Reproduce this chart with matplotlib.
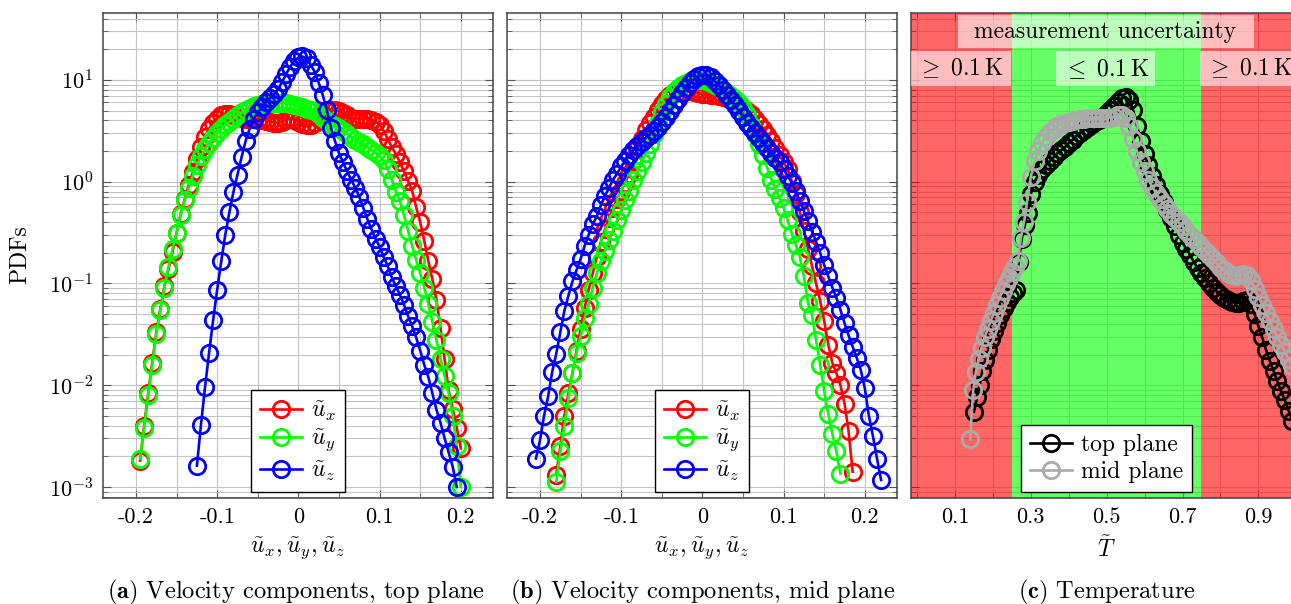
import numpy as np
import matplotlib
matplotlib.use('Agg')
import matplotlib.pyplot as plt
from matplotlib.patches import Rectangle
from matplotlib.ticker import FixedLocator, FixedFormatter, LogLocator, NullFormatter

plt.rcParams.update({
    'font.family': 'serif',
    'font.serif': ['cmr10'],
    'mathtext.fontset': 'cm',
    'axes.unicode_minus': False,
})

# ---------------- data (PDF values stored as log10 exponents) ----------------
# Panel (a): top plane
ux_top_x = [-0.195, -0.190, -0.185, -0.180, -0.175, -0.170, -0.165, -0.160, -0.155, -0.150,
            -0.145, -0.140, -0.135, -0.130, -0.125, -0.120, -0.115, -0.110, -0.105, -0.100,
            -0.095, -0.090, -0.085, -0.080, -0.075, -0.070, -0.065, -0.060, -0.055, -0.050,
            -0.045, -0.040, -0.035, -0.030, -0.025, -0.020, -0.015, -0.010, -0.005, 0.000,
            0.005, 0.010, 0.015, 0.020, 0.025, 0.030, 0.035, 0.040, 0.045, 0.050,
            0.055, 0.060, 0.065, 0.070, 0.075, 0.080, 0.085, 0.090, 0.095, 0.100,
            0.105, 0.110, 0.115, 0.120, 0.125, 0.130, 0.135, 0.140, 0.145, 0.150,
            0.155, 0.160, 0.165, 0.170, 0.175, 0.180, 0.185, 0.190, 0.195, 0.200]
ux_top_log = [-2.74, -2.40, -2.08, -1.78, -1.48, -1.25, -1.03, -0.86, -0.69, -0.50,
              -0.32, -0.17, -0.03, 0.09, 0.22, 0.34, 0.44, 0.52, 0.58, 0.62,
              0.65, 0.66, 0.66, 0.65, 0.64, 0.63, 0.62, 0.62, 0.62, 0.61,
              0.61, 0.60, 0.59, 0.58, 0.58, 0.59, 0.61, 0.62, 0.61, 0.59,
              0.57, 0.56, 0.56, 0.58, 0.62, 0.66, 0.69, 0.70, 0.70, 0.69,
              0.67, 0.65, 0.63, 0.62, 0.62, 0.62, 0.62, 0.61, 0.59, 0.56,
              0.50, 0.42, 0.34, 0.27, 0.19, 0.10, 0.01, -0.09, -0.25, -0.40,
              -0.58, -0.78, -0.96, -1.16, -1.44, -1.74, -2.05, -2.23, -2.42, -2.62]

uy_top_x = ux_top_x
uy_top_log = [-2.72, -2.42, -2.10, -1.80, -1.50, -1.26, -1.04, -0.84, -0.66, -0.50,
              -0.33, -0.18, -0.06, 0.06, 0.16, 0.25, 0.32, 0.38, 0.43, 0.48,
              0.52, 0.56, 0.59, 0.62, 0.65, 0.68, 0.70, 0.72, 0.74, 0.75,
              0.76, 0.77, 0.77, 0.77, 0.77, 0.77, 0.77, 0.76, 0.75, 0.74,
              0.73, 0.71, 0.70, 0.69, 0.66, 0.63, 0.60, 0.57, 0.55, 0.53,
              0.50, 0.47, 0.44, 0.41, 0.39, 0.37, 0.34, 0.31, 0.28, 0.25,
              0.21, 0.12, 0.02, -0.10, -0.19, -0.33, -0.48, -0.63, -0.77, -0.90,
              -1.04, -1.20, -1.38, -1.56, -1.74, -1.91, -2.08, -2.30, -2.60, -3.00]

uz_top_x = [-0.125, -0.120, -0.115, -0.110, -0.105, -0.100, -0.095, -0.090, -0.085, -0.080,
            -0.075, -0.070, -0.065, -0.060, -0.055, -0.050, -0.045, -0.040, -0.035, -0.030,
            -0.025, -0.020, -0.015, -0.010, -0.005, 0.000, 0.005, 0.010, 0.015, 0.020,
            0.025, 0.030, 0.035, 0.040, 0.045, 0.050, 0.055, 0.060, 0.065, 0.070,
            0.075, 0.080, 0.085, 0.090, 0.095, 0.100, 0.105, 0.110, 0.115, 0.120,
            0.125, 0.130, 0.135, 0.140, 0.145, 0.150, 0.155, 0.160, 0.165, 0.170,
            0.175, 0.180, 0.185, 0.190, 0.195]
uz_top_log = [-2.79, -2.39, -2.02, -1.68, -1.36, -1.06, -0.78, -0.52, -0.30, -0.10,
              0.07, 0.24, 0.40, 0.52, 0.62, 0.68, 0.73, 0.78, 0.82, 0.86,
              0.91, 0.98, 1.06, 1.13, 1.19, 1.22, 1.23, 1.21, 1.15, 1.08,
              0.97, 0.85, 0.70, 0.53, 0.40, 0.28, 0.19, 0.10, 0.02, -0.06,
              -0.15, -0.26, -0.37, -0.47, -0.56, -0.64, -0.74, -0.83, -0.94, -1.03,
              -1.11, -1.21, -1.32, -1.42, -1.53, -1.66, -1.80, -1.92, -2.08, -2.24,
              -2.37, -2.52, -2.66, -2.80, -3.00]

# Panel (b): mid plane
ux_mid_x = [-0.180, -0.175, -0.170, -0.165, -0.160, -0.155, -0.150, -0.145, -0.140, -0.135,
            -0.130, -0.125, -0.120, -0.115, -0.110, -0.105, -0.100, -0.095, -0.090, -0.085,
            -0.080, -0.075, -0.070, -0.065, -0.060, -0.055, -0.050, -0.045, -0.040, -0.035,
            -0.030, -0.025, -0.020, -0.015, -0.010, -0.005, 0.000, 0.005, 0.010, 0.015,
            0.020, 0.025, 0.030, 0.035, 0.040, 0.045, 0.050, 0.055, 0.060, 0.065,
            0.070, 0.075, 0.080, 0.085, 0.090, 0.095, 0.100, 0.105, 0.110, 0.115,
            0.120, 0.125, 0.130, 0.135, 0.140, 0.145, 0.150, 0.155, 0.160, 0.165,
            0.170, 0.175, 0.180, 0.185]
ux_mid_log = [-2.88, -2.60, -2.30, -2.08, -1.88, -1.66, -1.45, -1.24, -1.06, -0.90,
              -0.74, -0.59, -0.47, -0.36, -0.26, -0.17, -0.09, -0.01, 0.08, 0.20,
              0.32, 0.42, 0.51, 0.58, 0.64, 0.70, 0.76, 0.81, 0.85, 0.87,
              0.88, 0.89, 0.89, 0.89, 0.88, 0.87, 0.86, 0.86, 0.85, 0.85,
              0.84, 0.83, 0.82, 0.80, 0.78, 0.75, 0.72, 0.69, 0.66, 0.62,
              0.57, 0.52, 0.46, 0.40, 0.33, 0.26, 0.19, 0.12, 0.01, -0.12,
              -0.30, -0.48, -0.66, -0.83, -1.00, -1.17, -1.37, -1.60, -1.78, -1.88,
              -2.00, -2.18, -2.45, -2.85]

uy_mid_x = [-0.180, -0.175, -0.170, -0.165, -0.160, -0.155, -0.150, -0.145, -0.140, -0.135,
            -0.130, -0.125, -0.120, -0.115, -0.110, -0.105, -0.100, -0.095, -0.090, -0.085,
            -0.080, -0.075, -0.070, -0.065, -0.060, -0.055, -0.050, -0.045, -0.040, -0.035,
            -0.030, -0.025, -0.020, -0.015, -0.010, -0.005, 0.000, 0.005, 0.010, 0.015,
            0.020, 0.025, 0.030, 0.035, 0.040, 0.045, 0.050, 0.055, 0.060, 0.065,
            0.070, 0.075, 0.080, 0.085, 0.090, 0.095, 0.100, 0.105, 0.110, 0.115,
            0.120, 0.125, 0.130, 0.135, 0.140, 0.145, 0.150, 0.155, 0.160, 0.165,
            0.170]
uy_mid_log = [-2.95, -2.65, -2.40, -2.13, -1.88, -1.68, -1.52, -1.34, -1.20, -1.04,
              -0.90, -0.78, -0.68, -0.57, -0.48, -0.38, -0.28, -0.18, -0.09, 0.02,
              0.10, 0.19, 0.28, 0.37, 0.47, 0.58, 0.68, 0.76, 0.83, 0.88,
              0.92, 0.95, 0.97, 0.99, 1.00, 1.00, 1.00, 0.99, 0.97, 0.95,
              0.93, 0.90, 0.87, 0.84, 0.81, 0.77, 0.72, 0.65, 0.56, 0.47,
              0.37, 0.26, 0.13, 0.02, -0.07, -0.16, -0.26, -0.38, -0.51, -0.62,
              -0.74, -0.93, -1.19, -1.31, -1.56, -1.80, -2.06, -2.28, -2.48, -2.65,
              -2.87]

uz_mid_x = [-0.205, -0.200, -0.195, -0.190, -0.185, -0.180, -0.175, -0.170, -0.165, -0.160,
            -0.155, -0.150, -0.145, -0.140, -0.135, -0.130, -0.125, -0.120, -0.115, -0.110,
            -0.105, -0.100, -0.095, -0.090, -0.085, -0.080, -0.075, -0.070, -0.065, -0.060,
            -0.055, -0.050, -0.045, -0.040, -0.035, -0.030, -0.025, -0.020, -0.015, -0.010,
            -0.005, 0.000, 0.005, 0.010, 0.015, 0.020, 0.025, 0.030, 0.035, 0.040,
            0.045, 0.050, 0.055, 0.060, 0.065, 0.070, 0.075, 0.080, 0.085, 0.090,
            0.095, 0.100, 0.105, 0.110, 0.115, 0.120, 0.125, 0.130, 0.135, 0.140,
            0.145, 0.150, 0.155, 0.160, 0.165, 0.170, 0.175, 0.180, 0.185, 0.190,
            0.195, 0.200, 0.205, 0.210, 0.215, 0.220]
uz_mid_log = [-2.72, -2.54, -2.30, -2.11, -1.87, -1.69, -1.48, -1.27, -1.12, -0.98,
              -0.87, -0.76, -0.63, -0.52, -0.42, -0.34, -0.23, -0.14, -0.06, 0.02,
              0.08, 0.15, 0.20, 0.26, 0.31, 0.35, 0.39, 0.43, 0.46, 0.50,
              0.54, 0.59, 0.64, 0.69, 0.75, 0.81, 0.87, 0.92, 0.97, 1.01,
              1.04, 1.05, 1.05, 1.03, 0.99, 0.95, 0.90, 0.85, 0.80, 0.75,
              0.69, 0.64, 0.58, 0.53, 0.48, 0.43, 0.38, 0.33, 0.28, 0.23,
              0.19, 0.12, 0.06, -0.01, -0.09, -0.19, -0.29, -0.39, -0.49, -0.59,
              -0.70, -0.82, -0.93, -1.04, -1.14, -1.26, -1.39, -1.51, -1.62, -1.73,
              -1.85, -2.03, -2.30, -2.50, -2.72, -2.93]

# Panel (c): temperature
T_top_x = [0.150, 0.158, 0.165, 0.172, 0.180, 0.188, 0.196, 0.204, 0.212, 0.220,
           0.228, 0.236, 0.244, 0.252, 0.260, 0.268, 0.276, 0.284, 0.292, 0.300,
           0.310, 0.320, 0.330, 0.340, 0.350, 0.360, 0.370, 0.380, 0.390, 0.400,
           0.410, 0.420, 0.430, 0.440, 0.450, 0.460, 0.470, 0.480, 0.490, 0.500,
           0.510, 0.520, 0.530, 0.540, 0.550, 0.560, 0.570, 0.580, 0.590, 0.600,
           0.610, 0.620, 0.630, 0.640, 0.650, 0.660, 0.670, 0.680, 0.690, 0.700,
           0.710, 0.720, 0.730, 0.740, 0.750, 0.760, 0.770, 0.780, 0.790, 0.800,
           0.810, 0.820, 0.830, 0.840, 0.850, 0.860, 0.870, 0.880, 0.890, 0.900,
           0.910, 0.920, 0.930, 0.940, 0.950, 0.960, 0.970, 0.980, 0.990]
T_top_log = [-2.26, -2.12, -2.00, -1.86, -1.75, -1.65, -1.55, -1.47, -1.39, -1.31,
             -1.24, -1.18, -1.13, -1.09, -1.06, -0.79, -0.56, -0.43, -0.31, -0.12,
             0.00, 0.07, 0.12, 0.16, 0.20, 0.24, 0.28, 0.31, 0.34, 0.38,
             0.41, 0.45, 0.48, 0.51, 0.54, 0.57, 0.59, 0.61, 0.64, 0.67,
             0.70, 0.74, 0.78, 0.82, 0.83, 0.80, 0.70, 0.55, 0.40, 0.27,
             0.16, 0.06, -0.03, -0.12, -0.20, -0.28, -0.36, -0.44, -0.52, -0.60,
             -0.66, -0.72, -0.79, -0.85, -0.90, -0.95, -1.00, -1.04, -1.08, -1.11,
             -1.14, -1.16, -1.18, -1.19, -1.19, -1.17, -1.16, -1.20, -1.30, -1.42,
             -1.53, -1.65, -1.76, -1.86, -1.96, -2.06, -2.15, -2.25, -2.35]

T_mid_x = [0.140, 0.148, 0.155, 0.162, 0.170, 0.178, 0.186, 0.194, 0.202, 0.210,
           0.218, 0.226, 0.234, 0.242, 0.250, 0.258, 0.266, 0.274, 0.282, 0.290,
           0.300, 0.310, 0.320, 0.330, 0.340, 0.350, 0.360, 0.370, 0.380, 0.390,
           0.400, 0.410, 0.420, 0.430, 0.440, 0.450, 0.460, 0.470, 0.480, 0.490,
           0.500, 0.510, 0.520, 0.530, 0.540, 0.550, 0.560, 0.570, 0.580, 0.590,
           0.600, 0.610, 0.620, 0.630, 0.640, 0.650, 0.660, 0.670, 0.680, 0.690,
           0.700, 0.710, 0.720, 0.730, 0.740, 0.750, 0.760, 0.770, 0.780, 0.790,
           0.800, 0.810, 0.820, 0.830, 0.840, 0.850, 0.860, 0.870, 0.880, 0.890,
           0.900, 0.910, 0.920, 0.930, 0.940, 0.950, 0.960, 0.970, 0.980, 0.990]
T_mid_log = [-2.53, -2.05, -1.87, -1.74, -1.63, -1.53, -1.45, -1.37, -1.29, -1.21,
             -1.14, -1.07, -1.01, -0.95, -0.89, -0.84, -0.78, -0.55, -0.40, -0.20,
             0.05, 0.20, 0.30, 0.38, 0.44, 0.49, 0.52, 0.55, 0.57, 0.58,
             0.59, 0.60, 0.61, 0.62, 0.62, 0.63, 0.63, 0.63, 0.63, 0.63,
             0.63, 0.63, 0.64, 0.65, 0.65, 0.63, 0.55, 0.42, 0.30, 0.19,
             0.10, 0.02, -0.05, -0.11, -0.17, -0.22, -0.27, -0.32, -0.36, -0.40,
             -0.44, -0.48, -0.52, -0.56, -0.60, -0.64, -0.68, -0.72, -0.76, -0.80,
             -0.84, -0.87, -0.90, -0.92, -0.93, -0.92, -0.91, -0.92, -0.97, -1.05,
             -1.13, -1.21, -1.29, -1.37, -1.45, -1.53, -1.60, -1.67, -1.74, -1.81]

vel_labels = [r'$\tilde{u}_x$', r'$\tilde{u}_y$', r'$\tilde{u}_z$']
vel_colors = ['#ff0000', '#00ff00', '#0000ff']
temp_labels = ['top plane', 'mid plane']
temp_colors = ['#000000', '#aaaaaa']
vel_ticks = [-0.2, -0.1, 0.0, 0.1, 0.2]
vel_ticklabels = ['-0.2', '-0.1', '0', '0.1', '0.2']
T_ticks = [0.1, 0.3, 0.5, 0.7, 0.9]
T_ticklabels = ['0.1', '0.3', '0.5', '0.7', '0.9']

# ---------------- figure ----------------
W, H = 1291, 604
fig = plt.figure(figsize=(W / 100, H / 100), dpi=100)

def px_axes(left, top, right, bottom):
    return fig.add_axes([left / W, 1 - bottom / H, (right - left) / W, (bottom - top) / H])

ax_a = px_axes(102.7, 12.7, 493.3, 498)
ax_b = px_axes(506.7, 12.7, 897.3, 498)
ax_c = px_axes(911.0, 12.7, 1301.6, 498)

MS, MEW, LW = 11.8, 2.0, 1.9
FS = 17
TFS = 16


def style(ax, xlim, major, labels, minor):
    ax.set_yscale('log')
    ax.set_ylim(7.8e-4, 45.7)
    ax.set_xlim(*xlim)
    ax.xaxis.set_major_locator(FixedLocator(major))
    ax.xaxis.set_major_formatter(FixedFormatter(labels))
    ax.xaxis.set_minor_locator(FixedLocator(minor))
    ax.yaxis.set_major_locator(LogLocator(base=10, numticks=20))
    ax.yaxis.set_minor_locator(LogLocator(base=10, subs=np.arange(2, 10), numticks=20))
    ax.yaxis.set_minor_formatter(NullFormatter())
    ax.grid(True, which='both', color='#c4c4c4', lw=0.8)
    ax.set_axisbelow(True)
    ax.tick_params(which='both', direction='in', top=True, right=True,
                   color='#555555', labelsize=TFS, pad=7)
    ax.tick_params(which='major', length=6, width=0.8)
    ax.tick_params(which='minor', length=3.5, width=0.6)
    for s in ax.spines.values():
        s.set_color('#444444')
        s.set_linewidth(1.1)


def legend(ax):
    leg = ax.legend(loc='lower center', fontsize=FS, handlelength=1.8, handletextpad=0.35,
                    labelspacing=0.22, borderpad=0.38, borderaxespad=0.24,
                    fancybox=False, edgecolor='black', framealpha=1)
    leg.get_frame().set_linewidth(1.0)
    leg.set_zorder(10)


vel_minor = [-0.25, -0.15, -0.05, 0.05, 0.15, 0.25]

for ax, series in [(ax_a, [(ux_top_x, ux_top_log), (uy_top_x, uy_top_log), (uz_top_x, uz_top_log)]),
                   (ax_b, [(ux_mid_x, ux_mid_log), (uy_mid_x, uy_mid_log), (uz_mid_x, uz_mid_log)])]:
    for (xs, ls), c, lab in zip(series, vel_colors, vel_labels):
        ax.plot(xs, np.power(10.0, ls), '-o', color=c, lw=LW, ms=MS, mew=MEW,
                mfc='none', mec=c, label=lab)
    style(ax, (-0.241, 0.240), vel_ticks, vel_ticklabels, vel_minor)
    legend(ax)

ax_b.tick_params(labelleft=False)

# panel (c)
ax_c.axvspan(-0.1, 0.25, color='#ff0000', alpha=0.6, lw=0, zorder=1)
ax_c.axvspan(0.25, 0.75, color='#00ff00', alpha=0.6, lw=0, zorder=1)
ax_c.axvspan(0.75, 1.1, color='#ff0000', alpha=0.6, lw=0, zorder=1)
for xs, ls, c, lab in [(T_top_x, T_top_log, temp_colors[0], temp_labels[0]),
                       (T_mid_x, T_mid_log, temp_colors[1], temp_labels[1])]:
    ax_c.plot(xs, np.power(10.0, ls), '-o', color=c, lw=LW, ms=MS, mew=MEW,
              mfc='none', mec=c, label=lab, zorder=3)
style(ax_c, (-0.016, 1.014), T_ticks, T_ticklabels, [0.0, 0.2, 0.4, 0.6, 0.8, 1.0])
ax_c.tick_params(labelleft=False)
legend(ax_c)

trans = ax_c.get_xaxis_transform()
boxes = [((0.107, 0.927), 0.782, 0.068, 'measurement uncertainty', 0.495, 0.961),
         ((-0.016, 0.849), 0.2626, 0.072, r'$\geq\ 0.1\,\mathrm{K}$', 0.115, 0.885),
         ((0.3676, 0.849), 0.2606, 0.072, r'$\leq\ 0.1\,\mathrm{K}$', 0.498, 0.885),
         ((0.7466, 0.849), 0.27, 0.072, r'$\geq\ 0.1\,\mathrm{K}$', 0.877, 0.885)]
for (x0, y0), w, h, txt, tx, ty in boxes:
    ax_c.add_patch(Rectangle((x0, y0), w, h, transform=trans, facecolor='white',
                             alpha=0.58, lw=0, zorder=4))
    ax_c.text(tx, ty, txt, transform=trans, ha='center', va='center', fontsize=FS, zorder=5)

# labels and captions
fig.text(20 / W, 1 - 255 / H, 'PDFs', rotation=90, ha='center', va='center', fontsize=FS)
xl_y = 1 - 549 / H
fig.text(298 / W, xl_y, r'$\tilde{u}_x, \tilde{u}_y, \tilde{u}_z$', ha='center', va='center', fontsize=FS)
fig.text(702 / W, xl_y, r'$\tilde{u}_x, \tilde{u}_y, \tilde{u}_z$', ha='center', va='center', fontsize=FS)
fig.text(1106 / W, xl_y, r'$\tilde{T}$', ha='center', va='center', fontsize=FS)
cap_y = 1 - 592 / H
CFS = 17.6
fig.text(296 / W, cap_y, r'$\mathbf{(a)}$ Velocity components, top plane', ha='center', va='center', fontsize=CFS)
fig.text(703 / W, cap_y, r'$\mathbf{(b)}$ Velocity components, mid plane', ha='center', va='center', fontsize=CFS)
fig.text(1107 / W, cap_y, r'$\mathbf{(c)}$ Temperature', ha='center', va='center', fontsize=CFS)

fig.savefig('out.png', dpi=100)
